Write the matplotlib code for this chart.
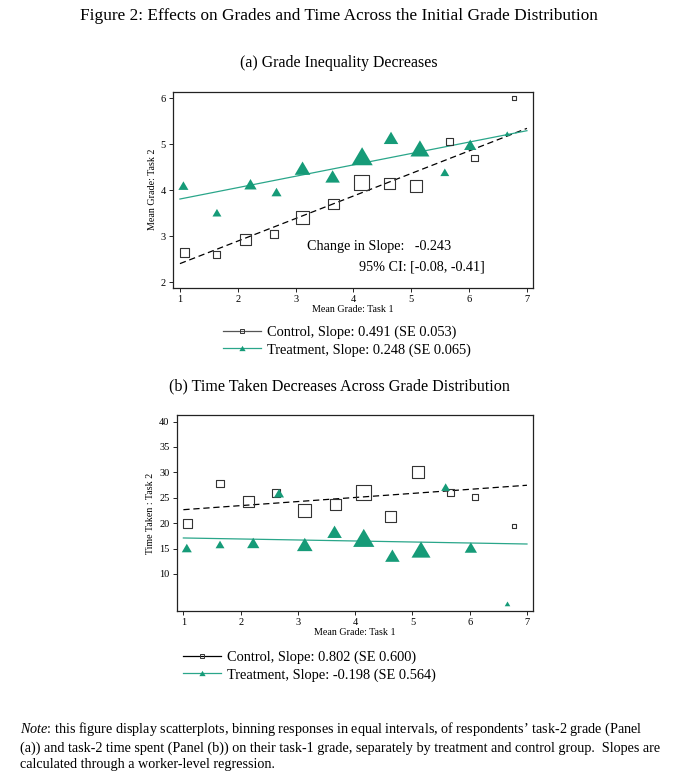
import matplotlib
matplotlib.use('Agg')
import matplotlib.pyplot as plt
import numpy as np
from matplotlib.lines import Line2D
from matplotlib.path import Path

plt.rcParams['font.family'] = ['Liberation Serif', 'DejaVu Serif']
plt.rcParams['mathtext.fontset'] = 'custom'
plt.rcParams['mathtext.rm'] = 'Liberation Serif'
plt.rcParams['mathtext.it'] = 'Liberation Serif:italic'

# bin centres (mean task-1 grade)
x_control = [1.08, 1.64, 2.13, 2.62, 3.12, 3.65, 4.14, 4.62, 5.09, 5.66, 6.09, 6.77]
x_treat = [1.06, 1.64, 2.22, 2.67, 3.12, 3.64, 4.15, 4.65, 5.15, 5.58, 6.02, 6.66]

# panel (a): mean task-2 grade
grade_control = [2.64, 2.60, 2.92, 3.05, 3.40, 3.70, 4.16, 4.14, 4.09, 5.06, 4.70, 6.00]
grade_treat = [4.10, 3.51, 4.13, 3.96, 4.48, 4.30, 4.74, 5.14, 4.91, 4.39, 4.99, 5.23]

# panel (b): time taken on task 2
time_control = [19.9, 27.75, 24.3, 25.9, 22.5, 23.6, 26.05, 21.3, 30.1, 26.1, 25.1, 19.4]
time_treat = [15.1, 15.8, 16.1, 25.9, 15.8, 18.3, 17.1, 13.6, 14.8, 27.1, 15.2, 4.1]

# bin weights (relative number of workers)
n_control = [80, 50, 120, 65, 170, 120, 225, 120, 145, 50, 42, 16]
n_treat = [81, 64, 121, 81, 196, 169, 361, 169, 289, 64, 121, 25]

# fitted lines (intercept, slope)
fit_grade_control = (1.91, 0.491)
fit_grade_treat = (3.56, 0.248)
fit_time_control = (21.85, 0.802)
fit_time_treat = (17.28, -0.198)

GREEN = '#169b78'
GREEN_LINE = '#2aa68a'

tri = Path([(-1.0, -0.85), (1.0, -0.85), (0.0, 0.85), (-1.0, -0.85)],
           [Path.MOVETO, Path.LINETO, Path.LINETO, Path.CLOSEPOLY])

fig = plt.figure(figsize=(6.78, 7.8), dpi=100)

fig.text(0.5, 1 - 16 / 780, 'Figure 2: Effects on Grades and Time Across the Initial Grade Distribution',
         ha='center', va='center', fontsize=12.45)
fig.text(0.5, 1 - 63 / 780, '(a) Grade Inequality Decreases', ha='center', va='center', fontsize=11.4)
fig.text(0.5, 1 - 386 / 780, '(b) Time Taken Decreases Across Grade Distribution',
         ha='center', va='center', fontsize=11.6)


def panel(ax, yc, yt, fitc, fitt, ylim, yticks, ylabel):
    xs = np.array([1, 7])
    ax.plot(xs, fitc[0] + fitc[1] * xs, color='black', lw=0.9, ls=(0, (5, 3)), zorder=2)
    ax.plot(xs, fitt[0] + fitt[1] * xs, color=GREEN_LINE, lw=0.9, zorder=2)
    px = 0.72  # points per pixel at 100 dpi
    ax.scatter(x_control, yc, s=np.array(n_control) * px ** 2, marker='s',
               facecolors='none', edgecolors='#333333', linewidths=0.8, zorder=3)
    ax.scatter(x_treat, yt, s=np.array(n_treat) * 1.25 * px ** 2, marker=tri,
               color=GREEN, linewidths=0, zorder=3)
    ax.set_xlim(0.88, 7.1)
    ax.set_ylim(*ylim)
    ax.set_xticks(range(1, 8))
    ax.set_yticks(yticks)
    ax.tick_params(labelsize=7.5, length=3, width=0.6, pad=2)
    ax.set_xlabel('Mean Grade: Task 1', fontsize=7.2, labelpad=1)
    ax.set_ylabel(ylabel, fontsize=7.2, labelpad=3)
    for sp in ax.spines.values():
        sp.set_linewidth(0.9)
        sp.set_color('#222222')


leg_kw = dict(loc='upper left', frameon=False, fontsize=10.4, handlelength=2.6,
              handletextpad=0.48, labelspacing=0.25, borderaxespad=0, borderpad=0)

# panel (a)
ax1 = fig.add_axes([173 / 678, 1 - 288 / 780, (532.7 - 173) / 678, (288 - 91.5) / 780])
panel(ax1, grade_control, grade_treat, fit_grade_control, fit_grade_treat,
      (1.87, 6.15), [2, 3, 4, 5, 6], 'Mean Grade: Task 2')
ax1.text(0.3725, 0.209, 'Change in Slope:   -0.243', transform=ax1.transAxes, fontsize=10.2,
         ha='left', va='center')
ax1.text(0.867, 0.107, '95% CI: [-0.08, -0.41]', transform=ax1.transAxes, fontsize=10.2,
         ha='right', va='center')

h1 = [Line2D([], [], color='#555555', lw=0.9, marker='s', markersize=3.5,
             markerfacecolor='none', markeredgecolor='#333333', markeredgewidth=0.7),
      Line2D([], [], color=GREEN_LINE, lw=0.9, marker=tri, markersize=4.5,
             markerfacecolor=GREEN, markeredgewidth=0)]
fig.legend(h1, ['Control, Slope: 0.491 (SE 0.053)', 'Treatment, Slope: 0.248 (SE 0.065)'],
           bbox_to_anchor=(223 / 678, 1 - 326 / 780), **leg_kw)

# panel (b)
ax2 = fig.add_axes([176.5 / 678, 1 - 611 / 780, (532.7 - 176.5) / 678, (611 - 415) / 780])
panel(ax2, time_control, time_treat, fit_time_control, fit_time_treat,
      (2.7, 41.3), [10, 15, 20, 25, 30, 35, 40], 'Time Taken : Task 2')

h2 = [Line2D([], [], color='black', lw=0.9, marker='s', markersize=3.5,
             markerfacecolor='none', markeredgecolor='#333333', markeredgewidth=0.7),
      Line2D([], [], color=GREEN_LINE, lw=0.9, marker=tri, markersize=4.5,
             markerfacecolor=GREEN, markeredgewidth=0)]
fig.legend(h2, ['Control, Slope: 0.802 (SE 0.600)', 'Treatment, Slope: -0.198 (SE 0.564)'],
           bbox_to_anchor=(183 / 678, 1 - 651 / 780), **leg_kw)

note = ("$\\it{Note}$: this figure display scatterplots, binning responses in equal intervals, of respondents\u2019 task-2 grade (Panel\n"
        "(a)) and task-2 time spent (Panel (b)) on their task-1 grade, separately by treatment and control group.  Slopes are\n"
        "calculated through a worker-level regression.")
fig.text(20 / 678, 1 - 721 / 780, note, ha='left', va='top', fontsize=10.2, linespacing=1.3)

fig.savefig('out.png', dpi=100)
